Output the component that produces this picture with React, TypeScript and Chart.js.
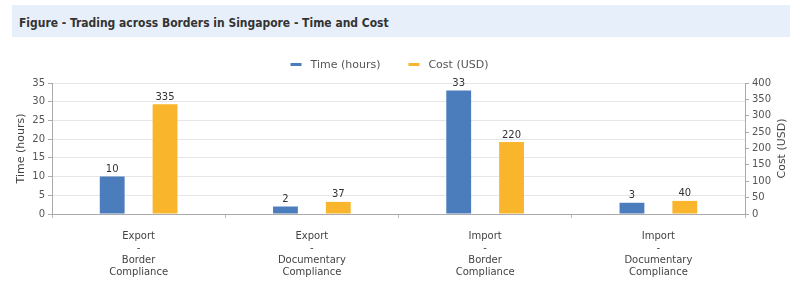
import React, { useEffect, useRef } from "react";
import { Chart, registerables } from "chart.js";

Chart.register(...registerables);

const TITLE = "Figure - Trading across Borders in Singapore - Time and Cost";
const categories: string[][] = [
  ["Export", "-", "Border", "Compliance"],
  ["Export", "-", "Documentary", "Compliance"],
  ["Import", "-", "Border", "Compliance"],
  ["Import", "-", "Documentary", "Compliance"],
];
const timeHours = [10, 2, 33, 3];
const costUSD = [335, 37, 220, 40];
const timeTicks = { min: 0, max: 35, step: 5 };
const costTicks = { min: 0, max: 400, step: 50 };
const seriesNames = ["Time (hours)", "Cost (USD)"];
const axisTitles = ["Time (hours)", "Cost (USD)"];

const BLUE = "#4b7dbd";
const ORANGE = "#f9b52c";
const FONT = "'DejaVu Sans', sans-serif";

const valueLabels = {
  id: "valueLabels",
  afterDatasetsDraw(chart: any) {
    const ctx = chart.ctx;
    ctx.save();
    ctx.font = `10px ${FONT}`;
    ctx.fillStyle = "#333";
    ctx.textAlign = "center";
    ctx.textBaseline = "bottom";
    chart.data.datasets.forEach((ds: any, i: number) => {
      const meta = chart.getDatasetMeta(i);
      meta.data.forEach((bar: any, j: number) => {
        ctx.fillText(String(ds.data[j]), bar.x, bar.y - 2);
      });
    });
    ctx.restore();
  },
};

// Legend drawn with wider spacing, like the reference
const customLegend = {
  id: "customLegend",
  afterDraw(chart: any) {
    const ctx = chart.ctx;
    const area = chart.chartArea;
    ctx.save();
    ctx.font = `11px ${FONT}`;
    ctx.textBaseline = "middle";
    const lineW = 11;
    const gapText = 9;
    const gapItem = 28;
    const items = chart.data.datasets.map((ds: any) => ({
      text: ds.label,
      color: ds.backgroundColor,
      w: lineW + gapText + ctx.measureText(ds.label).width,
    }));
    const total =
      items.reduce((s: number, it: any) => s + it.w, 0) + gapItem * (items.length - 1);
    let x = (area.left + area.right) / 2 - 9 - total / 2;
    const y = 24.5;
    items.forEach((it: any) => {
      ctx.fillStyle = it.color;
      ctx.fillRect(x, y - 1.5, lineW, 3);
      ctx.fillStyle = "#555";
      ctx.textAlign = "left";
      ctx.fillText(it.text, x + lineW + gapText, y + 0.5);
      x += it.w + gapItem;
    });
    ctx.restore();
  },
};

// Right axis title reading bottom-to-top, as in the reference
const rightTitle = {
  id: "rightTitle",
  afterDraw(chart: any) {
    const ctx = chart.ctx;
    const area = chart.chartArea;
    ctx.save();
    ctx.font = `11px ${FONT}`;
    ctx.fillStyle = "#444";
    ctx.textAlign = "center";
    ctx.textBaseline = "middle";
    ctx.translate(782, (area.top + area.bottom) / 2);
    ctx.rotate(-Math.PI / 2);
    ctx.fillText(axisTitles[1], 0, 0);
    ctx.restore();
  },
};

export default function App() {
  const ref = useRef<HTMLCanvasElement>(null);
  useEffect(() => {
    if (!ref.current) return;
    const chart = new Chart(ref.current, {
      type: "bar",
      data: {
        labels: categories,
        datasets: [
          {
            label: seriesNames[0],
            data: timeHours,
            backgroundColor: BLUE,
            borderWidth: 0,
            yAxisID: "y",
            categoryPercentage: 0.61,
            barPercentage: 0.47,
          },
          {
            label: seriesNames[1],
            data: costUSD,
            backgroundColor: ORANGE,
            borderWidth: 0,
            yAxisID: "y1",
            categoryPercentage: 0.61,
            barPercentage: 0.47,
          },
        ],
      },
      options: {
        animation: false,
        responsive: false,
        maintainAspectRatio: false,
        layout: { padding: { left: 11, right: 7, top: 43, bottom: 0 } },
        plugins: {
          legend: { display: false },
          tooltip: { enabled: false },
        },
        scales: {
          x: {
            grid: {
              display: true,
              drawOnChartArea: false,
              drawTicks: true,
              tickLength: 4,
              color: "#bbb",
            },
            border: { color: "#aaa" },
            ticks: {
              color: "#444",
              padding: 13,
              maxRotation: 0,
              autoSkip: false,
              font: { family: FONT, size: 10, lineHeight: 1.17 },
            },
            afterFit(scale: any) {
              scale.height = 88;
            },
          },
          y: {
            position: "left",
            min: timeTicks.min,
            max: timeTicks.max,
            ticks: {
              stepSize: timeTicks.step,
              color: "#555",
              padding: 3,
              font: { family: FONT, size: 10 },
            },
            grid: { color: "#e6e6e6", tickLength: 4, tickColor: "#aaa" },
            border: { color: "#aaa" },
            title: {
              display: true,
              text: axisTitles[0],
              color: "#444",
              font: { family: FONT, size: 11 },
              padding: { top: 4, bottom: 4 },
            },
            afterFit(scale: any) {
              scale.width = 41;
            },
          },
          y1: {
            position: "right",
            min: costTicks.min,
            max: costTicks.max,
            ticks: {
              stepSize: costTicks.step,
              color: "#555",
              padding: 3,
              font: { family: FONT, size: 10 },
            },
            grid: { drawOnChartArea: false, tickLength: 4, color: "#aaa" },
            border: { color: "#aaa" },
            title: { display: false },
            afterFit(scale: any) {
              scale.width = 48;
            },
          },
        },
      },
      plugins: [valueLabels, customLegend, rightTitle],
    });
    return () => chart.destroy();
  }, []);

  return (
    <div
      style={{
        position: "absolute",
        left: 0,
        top: 0,
        width: 800,
        height: 302,
        background: "#fff",
        overflow: "hidden",
      }}
    >
      <div
        style={{
          position: "absolute",
          left: 12,
          top: 5,
          width: 778,
          height: 32,
          background: "#e7f0fa",
        }}
      >
        <span
          style={{
            position: "absolute",
            left: 7,
            top: 10,
            fontFamily: "'DejaVu Sans Condensed', 'DejaVu Sans', sans-serif",
            fontStretch: "condensed",
            fontWeight: "bold",
            fontSize: 13,
            lineHeight: "15px",
            color: "#333",
            whiteSpace: "nowrap",
            transform: "scaleX(0.92)",
            transformOrigin: "0 0",
          }}
        >
          {TITLE}
        </span>
      </div>
      <canvas
        ref={ref}
        width={800}
        height={262}
        style={{ position: "absolute", left: 0, top: 40, width: 800, height: 262 }}
      />
    </div>
  );
}
